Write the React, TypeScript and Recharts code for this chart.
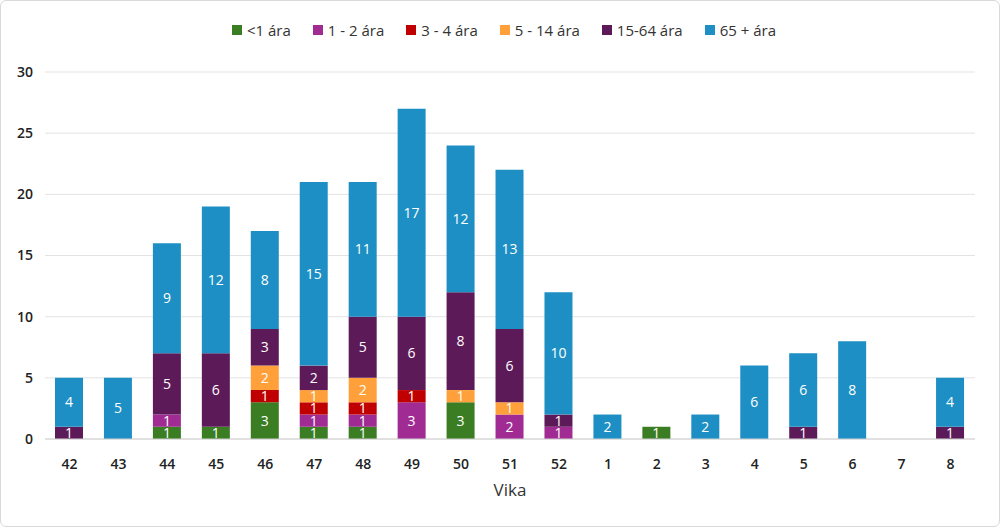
import React from "react";
import {
  BarChart,
  Bar,
  XAxis,
  YAxis,
  CartesianGrid,
  LabelList,
} from "recharts";

const weeks = ["42", "43", "44", "45", "46", "47", "48", "49", "50", "51", "52", "1", "2", "3", "4", "5", "6", "7", "8"];

// undefined = no cases that week
const under1 = [undefined, undefined, 1, 1, 3, 1, 1, undefined, 3, undefined, undefined, undefined, 1, undefined, undefined, undefined, undefined, undefined, undefined];
const age1to2 = [undefined, undefined, 1, undefined, undefined, 1, 1, 3, undefined, 2, 1, undefined, undefined, undefined, undefined, undefined, undefined, undefined, undefined];
const age3to4 = [undefined, undefined, undefined, undefined, 1, 1, 1, 1, undefined, undefined, undefined, undefined, undefined, undefined, undefined, undefined, undefined, undefined, undefined];
const age5to14 = [undefined, undefined, undefined, undefined, 2, 1, 2, undefined, 1, 1, undefined, undefined, undefined, undefined, undefined, undefined, undefined, undefined, undefined];
const age15to64 = [1, undefined, 5, 6, 3, 2, 5, 6, 8, 6, 1, undefined, undefined, undefined, undefined, 1, undefined, undefined, 1];
const age65plus = [4, 5, 9, 12, 8, 15, 11, 17, 12, 13, 10, 2, undefined, 2, 6, 6, 8, undefined, 4];

const yTicks = [0, 5, 10, 15, 20, 25, 30];

const series = [
  { key: "u1", name: "<1 ára", values: under1, color: "#3a7d22" },
  { key: "a12", name: "1 - 2 ára", values: age1to2, color: "#a02b93" },
  { key: "a34", name: "3 - 4 ára", values: age3to4, color: "#c00000" },
  { key: "a514", name: "5 - 14 ára", values: age5to14, color: "#ffa03a" },
  { key: "a1564", name: "15-64 ára", values: age15to64, color: "#5c1a58" },
  { key: "a65", name: "65 + ára", values: age65plus, color: "#1e8fc4" },
];

const data = weeks.map((w, i) => {
  const row: Record<string, string | number | undefined> = { week: w };
  series.forEach((s) => {
    row[s.key] = s.values[i];
  });
  return row;
});

const font = "'Open Sans', 'Liberation Sans', sans-serif";

function TopLegend() {
  return (
    <div
      style={{
        position: "absolute",
        top: 19,
        left: 0,
        width: "100%",
        display: "flex",
        justifyContent: "center",
        gap: 22,
        fontSize: 15,
        color: "#333",
        paddingLeft: 8,
        boxSizing: "border-box",
      }}
    >
      {series.map((s) => (
        <div key={s.key} style={{ display: "flex", alignItems: "center", gap: 5 }}>
          <span style={{ display: "inline-block", width: 10, height: 10, background: s.color }} />
          <span>{s.name}</span>
        </div>
      ))}
    </div>
  );
}

export default function App() {
  return (
    <div
      style={{
        position: "fixed",
        left: 0,
        top: 0,
        width: 1000,
        height: 527,
        boxSizing: "border-box",
        border: "1px solid #d9d9d9",
        borderRadius: 6,
        background: "#fff",
        fontFamily: font,
      }}
    >
      <TopLegend />
      <BarChart
        width={998}
        height={525}
        data={data}
        margin={{ top: 71, right: 24, left: 0, bottom: 57 }}
        barSize={28}
      >
        <CartesianGrid vertical={false} stroke="#e3e3e3" />
        <XAxis
          dataKey="week"
          tickLine={false}
          axisLine={{ stroke: "#d0d0d0" }}
          tick={{ fill: "#222", fontSize: 14, fontWeight: 600, fontFamily: font }}
          tickMargin={14}
          label={{ value: "Vika", position: "insideBottom", offset: -27, fill: "#333", fontSize: 17, fontFamily: font }}
        />
        <YAxis
          width={44}
          ticks={yTicks}
          domain={[0, 30]}
          tickLine={false}
          axisLine={false}
          tick={{ fill: "#222", fontSize: 14, fontWeight: 600, fontFamily: font }}
          tickMargin={6}
        />
        {series.map((s) => (
          <Bar key={s.key} dataKey={s.key} name={s.name} stackId="a" fill={s.color} isAnimationActive={false}>
            <LabelList
              dataKey={s.key}
              position="center"
              fill="#fff"
              fontSize={14}
              fontFamily={font}
              formatter={(v: any) => (v ? v : "")}
            />
          </Bar>
        ))}
      </BarChart>
    </div>
  );
}
